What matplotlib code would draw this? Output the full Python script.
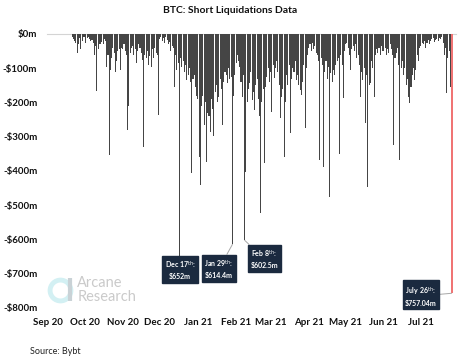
import numpy as np
import pandas as pd
import matplotlib
matplotlib.use("Agg")
import matplotlib.pyplot as plt
import matplotlib.dates as mdates
from matplotlib.lines import Line2D

plt.rcParams['font.family'] = ['Lato', 'DejaVu Sans']

# daily BTC short liquidations, $m (positive = amount liquidated)
start_date = "2020-09-21"
sep = [8, 15, 20, 25, 55, 30, 12, 45, 20, 10]
oct_ = [10, 25, 12, 8, 15, 20, 18, 25, 60, 35, 166, 45, 30, 28, 22, 30, 15, 20, 95, 60,
        353, 105, 70, 40, 55, 110, 80, 50, 45, 105, 40]
nov = [45, 30, 50, 60, 280, 210, 55, 40, 35, 60, 45, 85, 50, 30, 40, 55, 75, 330, 60, 70,
       50, 90, 65, 95, 45, 70, 40, 55, 60, 237]
dec = [15, 10, 20, 12, 25, 8, 18, 30, 22, 50, 35, 40, 154, 60, 105, 85, 652, 70, 96, 80,
       110, 90, 134, 120, 100, 140, 406, 130, 120, 154, 180]
jan = [190, 358, 441, 210, 180, 266, 200, 373, 230, 240, 285, 190, 220, 298, 170, 150, 200,
       183, 130, 160, 266, 140, 110, 120, 143, 100, 130, 125, 614.4, 180, 120]
feb = [85, 60, 80, 95, 140, 183, 120, 602.5, 402, 198, 160, 143, 110, 193, 170, 222, 150,
       130, 190, 240, 523, 200, 160, 377, 154, 125, 100, 140]
mar = [110, 227, 90, 128, 100, 80, 110, 150, 246, 183, 160, 358, 200, 120, 150, 90, 290,
       130, 100, 110, 80, 134, 120, 150, 164, 178, 140, 90, 275, 100, 60]
apr = [40, 30, 50, 25, 45, 35, 55, 60, 80, 368, 70, 90, 387, 110, 80, 130, 95, 475, 115,
       140, 105, 120, 90, 80, 70, 350, 60, 90, 187, 50]
may = [30, 25, 40, 60, 105, 45, 35, 50, 30, 70, 60, 90, 183, 110, 134, 100, 260, 120, 446,
       150, 143, 80, 100, 183, 60, 45, 55, 40, 60, 35, 50]
jun = [50, 40, 60, 45, 55, 30, 45, 60, 324, 70, 55, 40, 90, 368, 100, 80, 120, 100, 150,
       130, 183, 202, 154, 120, 100, 134, 105, 60, 80, 40]
jul = [35, 25, 30, 20, 40, 25, 18, 30, 20, 15, 12, 22, 18, 15, 20, 12, 15, 10, 25, 60,
       40, 173, 70, 50, 154, 757.04]

values = np.array(sep + oct_ + nov + dec + jan + feb + mar + apr + may + jun + jul)
dates = pd.date_range(start_date, periods=len(values), freq="D")

month_ticks = pd.date_range("2020-09-01", "2021-07-01", freq="MS")
y_ticks = [0, -100, -200, -300, -400, -500, -600, -700, -800]
y_labels = ["$0m", "-$100m", "-$200m", "-$300m", "-$400m", "-$500m", "-$600m", "-$700m", "-$800m"]

# annotated days: (date, label, box offset in days, box centre value)
callouts = [
    ("2020-12-17", "Dec 17$^{\\mathrm{th}}$:\n$652m", 0.5, -689),
    ("2021-01-29", "Jan 29$^{\\mathrm{th}}$:\n$614.4m", -11, -686),
    ("2021-02-08", "Feb 8$^{\\mathrm{th}}$:\n$602.5m", 16, -657),
    ("2021-07-26", "July 26$^{\\mathrm{th}}$:\n$757.04m", -25, -765),
]

fig = plt.figure(figsize=(4.6, 3.58), dpi=100)
ax = fig.add_axes([0.102, 0.1397, 0.889, 0.7654])

ax.bar(dates[:-1], -values[:-1], width=0.85, color='#454545', linewidth=0)
ax.bar(dates[-1:], -values[-1:], width=1.6, color='#f07474', linewidth=0)

ax.axhline(0, color='#d4d4d4', lw=0.8, clip_on=False, zorder=0)

x0 = pd.Timestamp("2020-09-01") - pd.Timedelta(hours=14)
ax.set_xlim(x0, x0 + pd.Timedelta(days=332))
ax.set_ylim(-800, 0)
ax.set_yticks(y_ticks)
ax.set_yticklabels(y_labels)
ax.set_xticks(month_ticks)
ax.xaxis.set_major_formatter(mdates.DateFormatter('%b %y'))
ax.tick_params(axis='both', length=0, labelsize=7, colors='#111111')
ax.tick_params(axis='y', pad=7)
ax.tick_params(axis='x', pad=7)
for lab in ax.get_xticklabels() + ax.get_yticklabels():
    lab.set_fontweight('bold')
for s in ax.spines.values():
    s.set_visible(False)

for d, txt, dx, ytxt in callouts:
    d = pd.Timestamp(d)
    v = values[dates.get_loc(d)]
    ax.annotate(txt, xy=(d, -v), xytext=(d + pd.Timedelta(days=dx), ytxt),
                ha='center', va='center', fontsize=5, fontweight='bold', color='white',
                linespacing=1.35,
                bbox=dict(boxstyle='square,pad=0.35', fc='#1b2a3f', ec='#1b2a3f'),
                arrowprops=dict(arrowstyle='-', color='#a8a8a8', lw=0.7,
                                shrinkA=0, shrinkB=0),
                annotation_clip=False)

# watermark
fig.add_artist(Line2D([0.1315], [0.19], marker='o', markersize=15, markerfacecolor='none',
                      markeredgecolor='#d3f0f3', markeredgewidth=3.5, transform=fig.transFigure))
fig.add_artist(Line2D([0.152, 0.152], [0.158, 0.224], color='#c9d2d6', lw=3,
                      transform=fig.transFigure, solid_capstyle='butt'))
fig.text(0.168, 0.19, "Arcane\nResearch", fontsize=10.5, color='#cacaca',
         va='center', ha='left', linespacing=0.95)

fig.text(0.5, 0.97, "BTC: Short Liquidations Data", ha='center', va='center',
         fontsize=7.5, fontweight='bold', color='#111111')
fig.text(0.065, 0.017, "Source: Bybt", ha='left', va='center', fontsize=6.5, color='#222222')

fig.savefig("out.png", dpi=100)
